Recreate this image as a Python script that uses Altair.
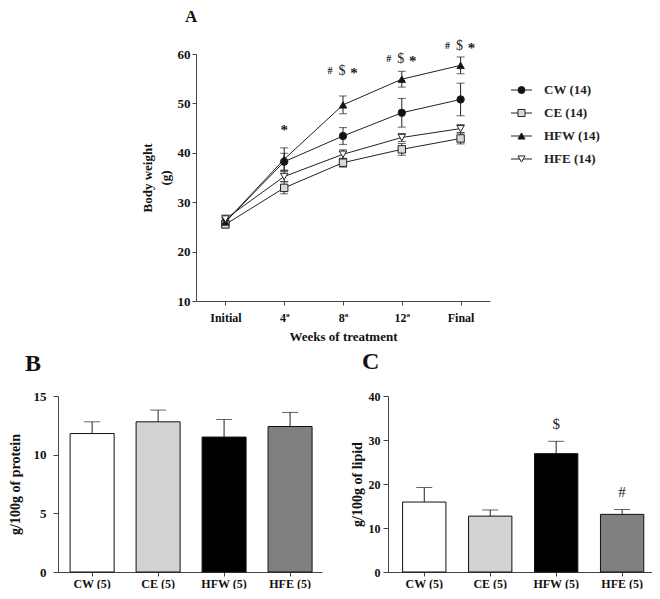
import altair as alt
import pandas as pd

FONT = "Liberation Serif"

# ---------------- Panel A data ----------------
weeks = ["Initial", "4ª", "8ª", "12ª", "Final"]
series = ["CW", "CE", "HFW", "HFE"]
legend_labels = ["CW (14)", "CE (14)", "HFW (14)", "HFE (14)"]
series_shapes = ["circle", "square", "triangle-up", "triangle-down"]
series_fills = ["#111111", "#d9d9d9", "#111111", "#ffffff"]

cw_mean = [26.0, 38.2, 43.4, 48.1, 50.8]
cw_err = [0.8, 1.7, 1.7, 2.9, 3.3]
ce_mean = [25.5, 32.9, 38.0, 40.7, 42.9]
ce_err = [0.7, 1.2, 0.9, 1.2, 1.1]
hfw_mean = [26.0, 38.7, 49.7, 54.9, 57.7]
hfw_err = [0.8, 2.3, 1.8, 1.6, 1.7]
hfe_mean = [26.6, 35.2, 39.7, 43.1, 44.9]
hfe_err = [0.8, 1.0, 0.9, 0.8, 0.8]

# significance marks above the curves
star_only_weeks = ["4ª"]
star_only_y = [45.0]
sig_weeks = ["8ª", "12ª", "Final"]
sig_y = [56.6, 59.0, 61.6]

# ---------------- Panels B / C data ----------------
groups = ["CW (5)", "CE (5)", "HFW (5)", "HFE (5)"]
bar_fill = ["#ffffff", "#d3d3d3", "#000000", "#808080"]
protein_mean = [11.8, 12.8, 11.5, 12.4]
protein_err = [1.0, 1.0, 1.5, 1.2]
lipid_mean = [15.9, 12.7, 26.9, 13.1]
lipid_err = [3.3, 1.4, 2.8, 1.1]
lipid_ann = ["", "", "$", "#"]
lipid_ann_y = [0, 0, 33.6, 18.1]

# ---------------- build tables ----------------
rows = []
for s, m, e in zip(series, [cw_mean, ce_mean, hfw_mean, hfe_mean], [cw_err, ce_err, hfw_err, hfe_err]):
    for w, v, er in zip(weeks, m, e):
        rows.append({"week": w, "series": s, "value": v, "lo": v - er, "hi": v + er})
df_a = pd.DataFrame(rows)
df_star1 = pd.DataFrame({"week": star_only_weeks, "y": star_only_y})
df_sig = pd.DataFrame({"week": sig_weeks, "y": sig_y})
df_leg = pd.DataFrame({"series": series, "label": legend_labels})

shape_scale = alt.Scale(domain=series, range=series_shapes)
fill_scale = alt.Scale(domain=series, range=series_fills)

x_week = alt.X("week:N", sort=weeks, scale=alt.Scale(type="point", padding=0.5),
               axis=alt.Axis(title="Weeks of treatment", labelAngle=0, titlePadding=7,
                             labelPadding=7, labelFontSize=12, titleFontSize=13))
yscale_a = alt.Scale(domain=[10, 60], nice=False, zero=False)
yaxis_a = alt.Axis(values=[10, 20, 30, 40, 50, 60], title=["Body weight", "(g)"], titlePadding=5,
                   labelPadding=2, labelFontSize=13, titleFontSize=13, titleLineHeight=18)


def ya(field):
    return alt.Y(f"{field}:Q", scale=yscale_a, axis=yaxis_a)


base_a = alt.Chart(df_a)
lines = base_a.mark_line(color="#222", strokeWidth=1).encode(x=x_week, y=ya("value"), detail="series:N")
err_rule = base_a.mark_rule(color="#222", strokeWidth=1).encode(x=x_week, y=ya("lo"), y2="hi:Q")
cap_lo = base_a.mark_tick(color="#222", thickness=1, size=8).encode(x=x_week, y=ya("lo"))
cap_hi = base_a.mark_tick(color="#222", thickness=1, size=8).encode(x=x_week, y=ya("hi"))
pts = base_a.mark_point(filled=True, size=55, stroke="#222", strokeWidth=1, opacity=1).encode(
    x=x_week, y=ya("value"),
    shape=alt.Shape("series:N", scale=shape_scale, legend=None),
    fill=alt.Fill("series:N", scale=fill_scale, legend=None),
)
star1 = alt.Chart(df_star1).mark_text(text="*", font=FONT, fontSize=15, fontWeight="bold",
                                      color="#222", dy=2).encode(x=x_week, y=ya("y"))
sig_hash = alt.Chart(df_sig).mark_text(text="#", font=FONT, fontSize=10, fontWeight="bold",
                                       color="#222", dx=-13).encode(x=x_week, y=ya("y"))
sig_dollar = alt.Chart(df_sig).mark_text(text="$", font=FONT, fontSize=14, color="#222",
                                         dx=-1).encode(x=x_week, y=ya("y"))
sig_star = alt.Chart(df_sig).mark_text(text="*", font=FONT, fontSize=15, fontWeight="bold",
                                       color="#222", dx=11, dy=2).encode(x=x_week, y=ya("y"))

main_a = alt.layer(lines, err_rule, cap_lo, cap_hi, pts, star1, sig_hash, sig_dollar, sig_star)

leg_y = alt.Y("series:N", sort=series, scale=alt.Scale(type="point", domain=series, range=[36, 105], padding=0), axis=None)
leg_base = alt.Chart(df_leg)
leg_rule = leg_base.mark_rule(color="#222", strokeWidth=1).encode(x=alt.value(315), x2=alt.value(336), y=leg_y)
leg_pts = leg_base.mark_point(filled=True, size=50, stroke="#222", strokeWidth=1, opacity=1).encode(
    x=alt.value(325.5), y=leg_y,
    shape=alt.Shape("series:N", scale=shape_scale, legend=None),
    fill=alt.Fill("series:N", scale=fill_scale, legend=None),
)
leg_txt = leg_base.mark_text(font=FONT, fontSize=13, fontWeight="bold", align="left", color="#222").encode(
    x=alt.value(348), y=leg_y, text="label:N")
legend_a = alt.layer(leg_rule, leg_pts, leg_txt)

chart_a = alt.layer(main_a, legend_a).resolve_scale(y="independent").properties(
    width=294, height=247,
    title=alt.TitleParams("A", fontSize=17, anchor="start", frame="group", dx=-11, offset=13),
)

spacer = alt.Chart(pd.DataFrame({"a": [0]})).mark_point(opacity=0, size=1).encode(
    x=alt.value(0), y=alt.value(0)).properties(width=83, height=10)

top_row = alt.hconcat(spacer, chart_a, spacing=0)

# ---------------- Panels B and C ----------------
df_b = pd.DataFrame({"group": groups, "value": protein_mean,
                     "hi": [m + e for m, e in zip(protein_mean, protein_err)]})
df_c = pd.DataFrame({"group": groups, "value": lipid_mean,
                     "hi": [m + e for m, e in zip(lipid_mean, lipid_err)],
                     "ann": lipid_ann, "ann_y": lipid_ann_y})


def bar_panel(df, ymax, yvals, ytitle, pin, pout, align, lab_size, lab_pad, title_pad):
    xg = alt.X("group:N", sort=groups,
               scale=alt.Scale(paddingInner=pin, paddingOuter=pout, align=align),
               axis=alt.Axis(title=None, labelAngle=0, labelPadding=2, labelFontSize=12, tickSize=4))
    ysc = alt.Scale(domain=[0, ymax], nice=False)
    yax = alt.Axis(values=yvals, title=ytitle, titlePadding=title_pad, labelPadding=lab_pad,
                   labelFontSize=lab_size, titleFontSize=14, tickSize=5)
    base = alt.Chart(df)
    rule = base.mark_rule(color="#222", strokeWidth=1).encode(
        x=xg, y=alt.Y("value:Q", scale=ysc, axis=yax), y2="hi:Q")
    cap = base.mark_tick(color="#222", thickness=1, size=16).encode(
        x=xg, y=alt.Y("hi:Q", scale=ysc, axis=yax))
    bars = base.mark_bar(stroke="#111", strokeWidth=1).encode(
        x=xg, y=alt.Y("value:Q", scale=ysc, axis=yax),
        fill=alt.Fill("group:N", scale=alt.Scale(domain=groups, range=bar_fill), legend=None))
    return alt.layer(rule, cap, bars), xg, ysc, yax


b_layers, _, _, _ = bar_panel(df_b, 15, [0, 5, 10, 15], "g/100g of protein",
                              0.333, 0.167, 0.55, 13, 7, 11)
chart_b = b_layers.properties(
    width=264, height=176,
    title=alt.TitleParams("B", fontSize=24, anchor="start", frame="bounds", dx=17, offset=14),
)

c_layers, xg_c, ysc_c, yax_c = bar_panel(df_c, 40, [0, 10, 20, 30, 40], "g/100g of lipid",
                                         0.343, 0.173, 0.64, 12, 3, 4)
c_ann = alt.Chart(df_c).mark_text(font=FONT, fontSize=15, color="#222").encode(
    x=xg_c, y=alt.Y("ann_y:Q", scale=ysc_c, axis=yax_c), text="ann:N")
chart_c = alt.layer(c_layers, c_ann).properties(
    width=264, height=176,
    title=alt.TitleParams("C", fontSize=24, anchor="start", frame="bounds", dx=12, offset=16),
)

bottom_row = alt.hconcat(chart_b, chart_c, spacing=28)

chart = alt.vconcat(top_row, bottom_row, spacing=7).resolve_scale(
    fill="independent", shape="independent"
).properties(padding=0).configure_view(
    stroke=None
).configure_axis(
    labelFont=FONT, labelFontSize=12, labelFontWeight="bold", labelColor="#111",
    titleFont=FONT, titleFontSize=13, titleFontWeight="bold", titleColor="#111",
    domainColor="#444", tickColor="#444", tickSize=4, grid=False,
).configure_title(
    font=FONT, fontWeight="bold", color="#111"
)

chart.save("out.html", embed_options={"renderer": "svg", "actions": False})
